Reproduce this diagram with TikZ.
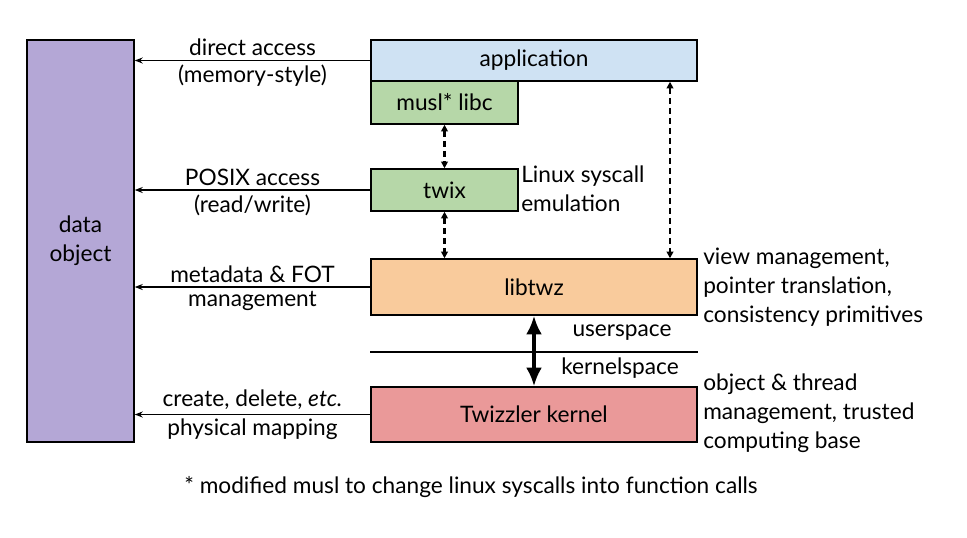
\documentclass[tikz,border=0pt]{standalone}
\usepackage{fontspec}
\setmainfont{Lato}
\usetikzlibrary{arrows.meta}
\definecolor{objcol}{HTML}{B4A7D6}
\definecolor{appcol}{HTML}{CFE2F3}
\definecolor{libcol}{HTML}{B6D7A8}
\definecolor{twzcol}{HTML}{F9CB9C}
\definecolor{kercol}{HTML}{EA9999}
\tikzset{
  box/.style={draw, line width=1.1pt, inner sep=0pt, align=center},
  conn/.style={-{Stealth[length=6pt, width=4.5pt]}, line width=0.9pt},
  dconn/.style={{Triangle[length=5pt, width=5pt]}-{Triangle[length=5pt, width=5pt]}, line width=1.6pt, dash pattern=on 4.5pt off 3pt},
  note/.style={align=left, anchor=west, inner sep=0pt}
}
% #1 fill, #2 name, #3 x, #4 y, #5 width, #6 height, #7 text
\newcommand{\layer}[7][white]{
  \node[box, fill=#1, minimum width=#5*0.75pt, minimum height=#6*0.75pt] (#2) at (#3+#5/2, #4+#6/2) {#7};
}

\begin{document}
\begin{tikzpicture}[x=0.75pt, y=-0.75pt, font=\fontsize{17}{21.75}\selectfont]
  \useasboundingbox (0,0) rectangle (967,537);

  \layer[objcol]{obj}{27}{40}{107}{402}{\fontsize{17}{24.5}\selectfont data\\object}
  \layer[appcol]{app}{371}{40}{326}{41}{application}
  \layer[libcol]{musl}{371}{81}{147}{43}{musl* libc}
  \layer[libcol]{twix}{371}{169}{147}{42}{twix}
  \layer[twzcol]{libtwz}{371}{259}{326}{56}{libtwz}
  \layer[kercol]{kern}{371}{387}{326}{55}{Twizzler kernel}

  % accesses into the object
  \draw[conn] (app.west) -- (app.west -| obj.east)
    node[midway, above, inner sep=3pt] {direct access}
    node[midway, below, inner sep=3pt] {(memory-style)};
  \draw[conn] (twix.west) -- (twix.west -| obj.east)
    node[midway, above, inner sep=3pt] {POSIX access}
    node[midway, below, inner sep=3pt] {(read/write)};
  \draw[conn] (libtwz.west) -- (libtwz.west -| obj.east)
    node[midway, above, inner sep=3pt] {metadata \& FOT}
    node[midway, below, inner sep=3pt] {management};
  \draw[conn] (kern.west) -- (kern.west -| obj.east)
    node[midway, above, inner sep=3pt] {create, delete, \textit{etc.}}
    node[midway, below, inner sep=3pt] {physical mapping};

  % calls down the stack
  \coordinate (rx) at (670,0);
  \draw[dconn] (musl.south) -- (twix.north);
  \draw[dconn] (twix.south) -- (twix.south |- libtwz.north);
  \draw[dconn] (app.south -| rx) -- (libtwz.north -| rx);
  \draw[{Latex[length=14pt, width=12pt]}-{Latex[length=14pt, width=12pt]}, line width=2.6pt] (libtwz.south) -- (kern.north);

  \coordinate (sep) at (0,352);
  \draw[line width=1.1pt] (sep -| libtwz.west) -- (sep -| libtwz.east);
  \node (user) at (622,333) {userspace};
  \node (kspace) at (620,368) {kernelspace};

  \node[note] (emu) at (521,189) {Linux syscall\\emulation};
  \node[note] (view) at (703,287) {view management,\\pointer translation,\\consistency primitives};
  \node[note] (ker) at (703,413) {object \& thread\\management, trusted\\computing base};
  \node (foot) at (471,487) {* modified musl to change linux syscalls into function calls};
\end{tikzpicture}
\end{document}
